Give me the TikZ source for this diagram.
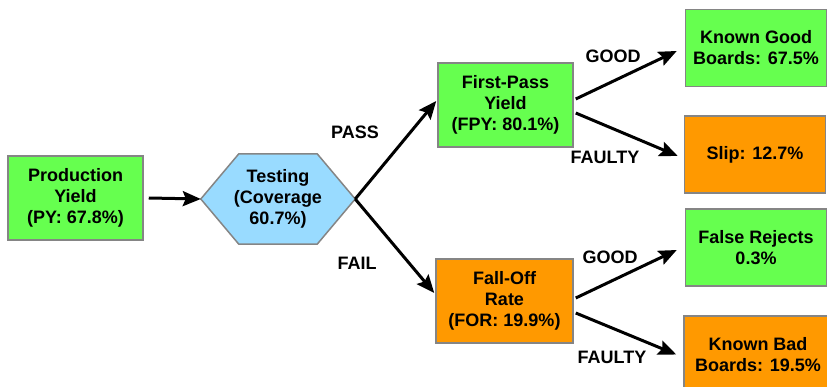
\documentclass[tikz,border=0pt]{standalone}
\usepackage{fontspec}
\setmainfont{Liberation Sans}
\usetikzlibrary{arrows.meta, backgrounds}
\definecolor{passgreen}{HTML}{66FF4F}
\definecolor{failorange}{HTML}{FF9900}
\definecolor{testblue}{HTML}{99DBFF}
\definecolor{rim}{HTML}{858585}
\tikzstyle{box} = [rectangle, minimum width=135pt, minimum height=84pt, text centered, align=center, draw=rim, line width=1.5pt, font=\bfseries\fontsize{18}{21}\selectfont]
\tikzstyle{endbox} = [box, minimum width=141pt, minimum height=77pt]
\tikzstyle{hexa} = [rectangle, minimum width=154pt, minimum height=90pt, text centered, align=center, font=\bfseries\fontsize{18}{21}\selectfont]
\tikzstyle{hexrim} = [draw=rim, line width=1.5pt, fill=testblue]
\tikzstyle{lbl} = [font=\bfseries\fontsize{18}{21}\selectfont]
\tikzstyle{arrow} = [line width=3pt,-{Stealth[length=18pt,width=15pt,inset=3pt]}]

\begin{document}
\begin{tikzpicture}[x=1pt,y=-1pt]
        \useasboundingbox (0,0) rectangle (827,387);
        \node (py) [box, fill=passgreen] at (75.5,198) {Production\\Yield\\(PY: 67.8\%)};
        \node (test) [hexa] at (278,199) {Testing\\(Coverage\\60.7\%)};
        \begin{scope}[on background layer]
        \draw [hexrim] (test.west) -- ([xshift=38pt]test.north west) -- ([xshift=-38pt]test.north east) -- (test.east) -- ([xshift=-38pt]test.south east) -- ([xshift=38pt]test.south west) -- cycle;
        \end{scope}
        \draw [arrow] ([xshift=5pt]py.east) -- (test.west);
        
        \node (fpy) [box, fill=passgreen] at (505.5,105) {First-Pass\\Yield\\(FPY: 80.1\%)};
        \node (for) [box, fill=failorange, minimum width=137pt] at (504.5,301) {Fall-Off\\Rate\\(FOR: 19.9\%)};
        \draw [arrow] (test.east) -- ([xshift=-1pt,yshift=4pt]fpy.west);
        \draw [arrow] (test.east) -- ([xshift=-1pt,yshift=8pt]for.west);
        \node (pass) [lbl] at (355,132) {PASS};
        \node (fail) [lbl] at (357,263) {FAIL};
        
        \node (kgb) [endbox, fill=passgreen] at (756,48) {Known Good\\Boards: 67.5\%};
        \node (slip) [endbox, fill=failorange] at (755,154.5) {Slip: 12.7\%};
        \draw [arrow] ([xshift=2pt,yshift=6pt]fpy.east) -- ([xshift=-8pt,yshift=-3pt]kgb.west);
        \draw [arrow] ([xshift=2pt,yshift=-8pt]fpy.east) -- ([xshift=-6pt,yshift=-1.5pt]slip.west);
        \node (good1) [lbl] at (613,56) {GOOD};
        \node (faulty1) [lbl] at (605,157) {FAULTY};
        
        \node (frj) [endbox, fill=passgreen] at (756,247.5) {False Rejects\\0.3\%};
        \node (kbb) [endbox, fill=failorange, minimum width=148pt] at (758,354.5) {Known Bad\\Boards: 19.5\%};
        \draw [arrow] ([xshift=2pt,yshift=3pt]for.east) -- ([xshift=-8pt,yshift=-2.5pt]frj.west);
        \draw [arrow] ([xshift=2pt,yshift=-12pt]for.east) -- ([xshift=-7pt]kbb.west);
        \node (good2) [lbl] at (610,257) {GOOD};
        \node (faulty2) [lbl] at (612,357) {FAULTY};
\end{tikzpicture}
\end{document}
